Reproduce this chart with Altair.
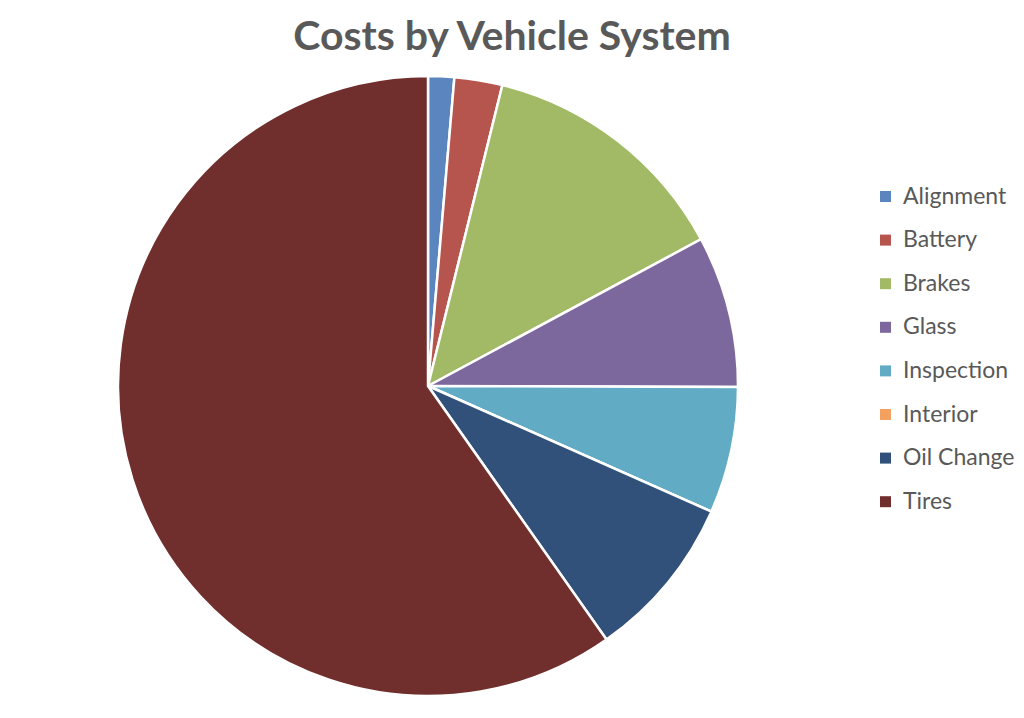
import altair as alt
import pandas as pd

systems = ["Alignment", "Battery", "Brakes", "Glass", "Inspection", "Interior", "Oil Change", "Tires"]
costs = [136, 250, 1330, 790, 660, 0, 860, 5980]
colors = ["#5A85BE", "#B5554E", "#A2BA66", "#7D689E", "#62ABC4", "#F4A05E", "#31507A", "#702E2C"]

df = pd.DataFrame({"System": systems, "Cost": costs, "Order": list(range(len(systems)))})

chart = alt.Chart(df).mark_arc(outerRadius=310, stroke="white", strokeWidth=2.5).encode(
    theta=alt.Theta("Cost:Q", stack=True),
    order=alt.Order("Order:Q"),
    color=alt.Color(
        "System:N",
        scale=alt.Scale(domain=systems, range=colors),
        legend=alt.Legend(
            title=None,
            orient="none",
            legendX=866,
            legendY=117,
            symbolType="square",
            symbolSize=121,
            symbolStrokeWidth=0,
            labelFont="Lato",
            labelFontSize=23,
            labelColor="#595959",
            labelOffset=6,
            rowPadding=19.6,
            labelLimit=200,
        ),
    ),
    x=alt.value(420),
    y=alt.value(318),
).properties(
    width=1008,
    height=642,
    padding={"top": 60, "left": 0, "right": 0, "bottom": 0},
    autosize=alt.AutoSizeParams(type="none"),
    title=alt.Title(
        "Costs by Vehicle System",
        font="Lato",
        fontSize=41,
        fontWeight="bold",
        color="#595959",
        anchor="middle",
        offset=9,
    ),
).configure_view(stroke=None)

chart.save("out.html", embed_options={"renderer": "svg", "actions": False})
